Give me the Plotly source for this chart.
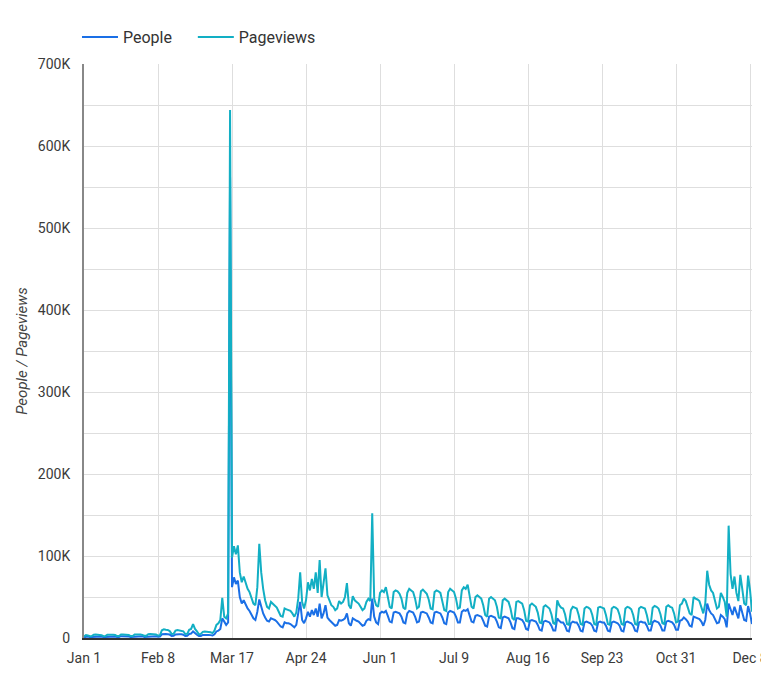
import pandas as pd
import plotly.graph_objects as go

start_date = "2020-01-01"
end_date = "2020-12-09"

pageviews = [
    # Jan
    2000, 3500, 3200, 2100, 2300, 4000, 4200, 4100, 3900, 3500, 2200, 2300, 4100, 4300, 4200, 4000,
    3600, 2300, 2400, 4200, 4400, 4300, 4100, 3700, 2400, 2500, 4300, 4500, 4400, 4200, 3800,
    # Feb
    2600, 2700, 4600, 4800, 4700, 4500, 4200, 3000, 3500, 9500, 10500, 10000, 9800, 8500, 5000,
    5200, 9000, 9800, 9500, 9200, 8200, 4800, 5000, 10000, 11000, 17000, 11000, 8000, 4500,
    # Mar
    5000, 7500, 8000, 7800, 7600, 7000, 6000, 9000, 16000, 18000, 22000, 49000, 26000, 24000,
    30000, 644000, 98000, 112000, 102000, 113000, 80000, 68000, 75000, 66000, 60000, 56000,
    48000, 42000, 40000, 62000, 115000,
    # Apr
    80000, 60000, 46000, 38000, 36000, 44000, 42000, 40000, 37000, 32000, 27000, 26000, 36000,
    35000, 34000, 33000, 30000, 26000, 31000, 48000, 80000, 44000, 36000, 46000, 68000, 58000,
    72000, 60000, 80000, 55000,
    # May
    95000, 50000, 67000, 85000, 52000, 45000, 40000, 38000, 34000, 36000, 45000, 42000, 44000,
    50000, 67000, 40000, 36000, 51000, 46000, 44000, 42000, 38000, 34000, 36000, 44000, 48000,
    45000, 152000, 48000, 40000, 38000,
    # Jun
    55000, 58000, 56000, 62000, 50000, 38000, 36000, 56000, 58000, 57000, 54000, 48000, 37000,
    35000, 55000, 60000, 58000, 56000, 48000, 36000, 38000, 57000, 59000, 56000, 54000, 47000,
    36000, 35000, 56000, 58000,
    # Jul
    57000, 55000, 46000, 34000, 33000, 56000, 60000, 58000, 56000, 48000, 36000, 37000, 58000,
    62000, 60000, 65000, 50000, 38000, 36000, 50000, 52000, 50000, 48000, 40000, 28000, 26000,
    48000, 50000, 48000, 46000, 38000,
    # Aug
    25000, 24000, 46000, 48000, 46000, 44000, 36000, 24000, 22000, 44000, 45000, 43000, 42000,
    34000, 21000, 20000, 40000, 42000, 40000, 38000, 31000, 19000, 18000, 38000, 40000, 38000,
    36000, 29000, 18000, 17000, 46000,
    # Sep
    40000, 37000, 36000, 29000, 17000, 16000, 34000, 38000, 37000, 36000, 28000, 17000, 16000,
    36000, 38000, 37000, 35000, 28000, 17000, 16000, 37000, 38000, 37000, 36000, 28000, 17000,
    16000, 36000, 38000, 37000,
    # Oct
    35000, 28000, 17000, 16000, 36000, 38000, 37000, 35000, 28000, 17000, 16000, 36000, 38000,
    37000, 36000, 28000, 17000, 17000, 37000, 39000, 38000, 36000, 29000, 18000, 17000, 38000,
    40000, 38000, 37000, 30000, 19000,
    # Nov
    20000, 40000, 42000, 48000, 45000, 38000, 30000, 28000, 50000, 48000, 47000, 45000, 38000,
    30000, 42000, 82000, 65000, 58000, 55000, 45000, 36000, 38000, 55000, 50000, 44000, 26000,
    137000, 78000, 60000, 75000,
    # Dec
    55000, 45000, 77000, 60000, 42000, 40000, 76000, 58000, 32000,
]

people = [
    # Jan
    1000, 1800, 1700, 1100, 1200, 2100, 2200, 2100, 2000, 1800, 1100, 1200, 2100, 2200, 2200, 2100,
    1900, 1200, 1200, 2200, 2300, 2200, 2100, 1900, 1200, 1300, 2200, 2300, 2300, 2200, 2000,
    # Feb
    1300, 1400, 2400, 2500, 2500, 2400, 2200, 1600, 1800, 4500, 5000, 4800, 4700, 4200, 2600,
    2700, 4400, 4800, 4600, 4500, 4000, 2500, 2600, 4900, 5400, 8000, 5400, 4000, 2400,
    # Mar
    2500, 3800, 4000, 3900, 3800, 3500, 3000, 4500, 8000, 9000, 11000, 24000, 19000, 16000,
    19000, 562000, 62000, 74000, 66000, 70000, 50000, 42000, 46000, 40000, 36000, 33000, 28000,
    24000, 22000, 32000, 47000,
    # Apr
    38000, 30000, 25000, 21000, 20000, 24000, 23000, 22000, 20000, 17000, 14000, 13000, 19000,
    18000, 18000, 17000, 15000, 13000, 16000, 28000, 44000, 22000, 18000, 24000, 32000, 26000,
    34000, 28000, 36000, 26000,
    # May
    42000, 24000, 30000, 40000, 25000, 22000, 20000, 18000, 15000, 16000, 22000, 21000, 22000,
    24000, 30000, 18000, 15000, 24000, 22000, 21000, 20000, 18000, 15000, 16000, 21000, 23000,
    22000, 48000, 26000, 19000, 17000,
    # Jun
    30000, 32000, 31000, 33000, 27000, 20000, 19000, 31000, 32000, 31000, 30000, 26000, 19000,
    18000, 30000, 33000, 32000, 31000, 26000, 19000, 20000, 31000, 32000, 31000, 30000, 25000,
    19000, 18000, 31000, 32000,
    # Jul
    31000, 30000, 25000, 18000, 17000, 31000, 33000, 32000, 31000, 26000, 19000, 19000, 32000,
    34000, 33000, 35000, 27000, 20000, 19000, 27000, 28000, 27000, 26000, 21000, 15000, 14000,
    26000, 27000, 26000, 25000, 20000,
    # Aug
    13000, 12000, 25000, 26000, 25000, 24000, 19000, 12000, 11000, 24000, 24000, 23000, 22000,
    18000, 11000, 10000, 21000, 22000, 21000, 20000, 16000, 10000, 9000, 20000, 21000, 20000,
    19000, 15000, 9000, 9000, 24000,
    # Sep
    21000, 19000, 19000, 15000, 9000, 8000, 18000, 20000, 19000, 19000, 15000, 9000, 8000,
    19000, 20000, 19000, 18000, 15000, 9000, 8000, 19000, 20000, 19000, 19000, 15000, 9000,
    8000, 19000, 20000, 19000,
    # Oct
    18000, 15000, 9000, 8000, 19000, 20000, 19000, 18000, 15000, 9000, 8000, 19000, 20000,
    19000, 19000, 15000, 9000, 9000, 19000, 21000, 20000, 19000, 15000, 9000, 9000, 20000,
    21000, 20000, 19000, 16000, 10000,
    # Nov
    10000, 21000, 22000, 25000, 23000, 20000, 15000, 14000, 26000, 25000, 24000, 23000, 20000,
    15000, 22000, 42000, 34000, 30000, 28000, 23000, 18000, 19000, 28000, 26000, 23000, 13000,
    42000, 35000, 28000, 38000,
    # Dec
    30000, 24000, 40000, 32000, 22000, 21000, 39000, 30000, 17000,
]

dates = pd.date_range(start_date, end_date, freq="D")

x_tick_dates = ["2020-01-01", "2020-02-08", "2020-03-17", "2020-04-24", "2020-06-01",
                "2020-07-09", "2020-08-16", "2020-09-23", "2020-10-31", "2020-12-08"]
x_tick_labels = ["Jan 1", "Feb 8", "Mar 17", "Apr 24", "Jun 1",
                 "Jul 9", "Aug 16", "Sep 23", "Oct 31", "Dec 8"]

y_tick_vals = [0, 50000, 100000, 150000, 200000, 250000, 300000, 350000, 400000,
               450000, 500000, 550000, 600000, 650000, 700000]
y_tick_labels = ["0", "", "100K", "", "200K", "", "300K", "", "400K",
                 "", "500K", "", "600K", "", "700K"]

series_names = ["People", "Pageviews"]

fig = go.Figure()
fig.add_trace(go.Scatter(x=dates, y=people, name=series_names[0] + "\u00a0\u00a0\u00a0\u00a0",
                         mode="lines", line=dict(color="#1a6fe6", width=2)))
fig.add_trace(go.Scatter(x=dates, y=pageviews, name=series_names[1], mode="lines",
                         line=dict(color="#12afc4", width=2)))

tick_font = dict(size=14, color="#3a3a3a")

fig.update_layout(
    width=761, height=677,
    margin=dict(l=76, r=17, t=56, b=47, autoexpand=False),
    paper_bgcolor="white", plot_bgcolor="white",
    font=dict(family="Roboto", size=14, color="#444"),
    showlegend=True,
    legend=dict(orientation="h", x=-0.0105, xanchor="left", y=1.047, yanchor="middle",
                font=dict(size=16, color="#333"), bgcolor="rgba(0,0,0,0)",
                itemwidth=36),
    xaxis=dict(
        type="date",
        range=[start_date, end_date],
        tickvals=x_tick_dates, ticktext=x_tick_labels,
        showgrid=True, gridcolor="#dedede", gridwidth=1,
        showline=True, linecolor="#333", linewidth=1.5,
        ticks="", tickfont=tick_font,
        ticklabelstandoff=6, ticklabeloverflow="allow",
        zeroline=False, automargin=False,
    ),
    yaxis=dict(
        range=[0, 700000],
        tickvals=y_tick_vals, ticktext=y_tick_labels,
        showgrid=True, gridcolor="#dedede", gridwidth=1,
        showline=True, linecolor="#888", linewidth=2,
        ticks="", tickfont=tick_font,
        ticklabelstandoff=9,
        zeroline=False, automargin=False,
        title=dict(text="<i>People / Pageviews</i>", font=dict(size=15, color="#444"), standoff=7),
    ),
)

fig.write_html("out.html")
